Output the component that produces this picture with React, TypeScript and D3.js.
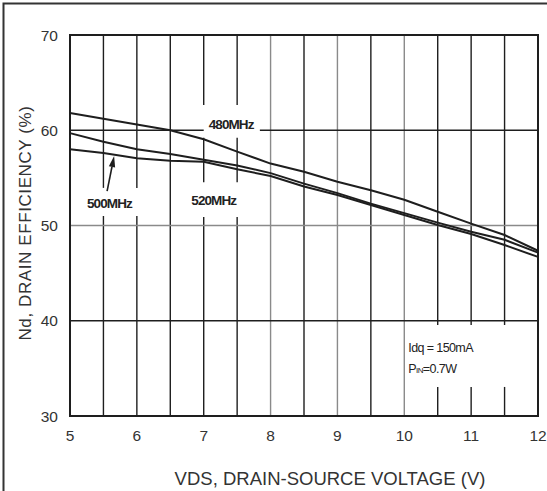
import React from 'react';
import * as d3 from 'd3';

// drain voltage (V) at each reading
const voltage = [5, 5.5, 6, 6.5, 7, 7.5, 8, 8.5, 9, 9.5, 10, 10.5, 11, 11.5, 12];

// drain efficiency (%) per frequency
const eff480 = [61.8, 61.2, 60.6, 60.0, 59.05, 57.75, 56.5, 55.65, 54.6, 53.7, 52.7, 51.45, 50.2, 49.0, 47.35];
const eff520 = [59.7, 58.8, 58.0, 57.5, 56.9, 56.3, 55.5, 54.4, 53.4, 52.3, 51.3, 50.3, 49.35, 48.5, 47.15];
const eff500 = [58.0, 57.6, 57.05, 56.8, 56.7, 55.9, 55.2, 54.1, 53.2, 52.15, 51.1, 50.05, 49.1, 47.95, 46.7];

const xTicks = [5, 6, 7, 8, 9, 10, 11, 12];
const yTicks = [30, 40, 50, 60, 70];
const vGrid = [5.5, 6, 6.5, 7, 7.5, 8, 8.5, 9, 9.5, 10, 10.5, 11, 11.5];
const hGrid = [40, 50, 60];
const grayV = [8, 9, 10];
const grayH = [50];

// gaps left in the grid for the labels (data units)
const vGaps = [
  { at: [7, 7.5], from: 59.2, to: 62.65 },
  { at: [7, 7.5], from: 50.9, to: 54.55 },
  { at: [5.5, 6], from: 51.0, to: 53.95 },
  { at: [10.5, 11, 11.5], from: 33.05, to: 39.55 },
];
const hGaps = [{ at: [60], from: 7.0, to: 7.84 }];

const W = 547;
const H = 491;
const margin = { top: 35, right: 9, bottom: 75, left: 70 };

const x = d3.scaleLinear().domain([5, 12]).range([margin.left, W - margin.right]);
const y = d3.scaleLinear().domain([30, 70]).range([H - margin.bottom, margin.top]);

const line = d3
  .line<number>()
  .x((d, i) => x(voltage[i]))
  .y((d) => y(d));

const font = "'Liberation Sans', Arial, Helvetica, sans-serif";
const ink = '#1e1e1e';

function segments(lo: number, hi: number, gaps: { from: number; to: number }[]) {
  const out: [number, number][] = [];
  let start = lo;
  gaps
    .slice()
    .sort((a, b) => a.from - b.from)
    .forEach((g) => {
      out.push([start, g.from]);
      start = g.to;
    });
  out.push([start, hi]);
  return out;
}

const App: React.FC = () => {
  return (
    <svg
      width={W}
      height={H}
      style={{ position: 'absolute', left: 0, top: 0, background: '#fff' }}
      fontFamily={font}
    >
      <rect x={3.5} y={3.5} width={W + 40} height={H + 40} fill='none' stroke='#333' strokeWidth={2} />

      {/* vertical grid */}
      {vGrid.map((v) => {
        const gaps = vGaps.filter((g) => g.at.includes(v));
        return segments(30, 70, gaps).map(([a, b], i) => (
          <line
            key={`v${v}-${i}`}
            x1={x(v)}
            x2={x(v)}
            y1={y(a)}
            y2={y(b)}
            stroke={grayV.includes(v) ? '#8a8a8a' : ink}
            strokeWidth={1.4}
          />
        ));
      })}

      {/* horizontal grid */}
      {hGrid.map((e) => {
        const gaps = hGaps.filter((g) => g.at.includes(e));
        return segments(5, 12, gaps).map(([a, b], i) => (
          <line
            key={`h${e}-${i}`}
            x1={x(a)}
            x2={x(b)}
            y1={y(e)}
            y2={y(e)}
            stroke={grayH.includes(e) ? '#8a8a8a' : ink}
            strokeWidth={1.4}
          />
        ));
      })}

      <rect
        x={x(5)}
        y={y(70)}
        width={x(12) - x(5)}
        height={y(30) - y(70)}
        fill='none'
        stroke={ink}
        strokeWidth={2}
      />

      {[eff480, eff520, eff500].map((s, i) => (
        <path key={i} d={line(s) || ''} fill='none' stroke={ink} strokeWidth={2} />
      ))}

      {/* arrow to the 500 MHz curve */}
      {(() => {
        const x1 = x(5.555), y1 = y(53.6);
        const x2 = x(5.66), y2 = y(57.3);
        const ang = Math.atan2(y2 - y1, x2 - x1);
        const len = 11, half = 3.2;
        const bx = x2 - len * Math.cos(ang), by = y2 - len * Math.sin(ang);
        const px = -Math.sin(ang) * half, py = Math.cos(ang) * half;
        return (
          <g>
            <line x1={x1} y1={y1} x2={bx} y2={by} stroke={ink} strokeWidth={1.6} />
            <polygon points={`${x2},${y2} ${bx + px},${by + py} ${bx - px},${by - py}`} fill={ink} />
          </g>
        );
      })()}

      <g fontWeight='bold' fontSize={13.5} letterSpacing={-0.9} fill='#222' textAnchor='middle'>
        <text x={x(7.41)} y={y(60.13)}>480MHz</text>
        <text x={x(5.59)} y={y(51.84)}>500MHz</text>
        <text x={x(7.15)} y={y(52.15)}>520MHz</text>
      </g>

      <g fontSize={12.5} letterSpacing={-0.6} fill='#222'>
        <text x={x(10.06)} y={y(36.7)}>Idq = 150mA</text>
        <text x={x(10.06)} y={y(34.5)}>
          P<tspan fontSize={8}>IN</tspan>=0.7W
        </text>
      </g>

      {/* tick labels */}
      <g fontSize={15.5} fill='#333' textAnchor='middle'>
        {xTicks.map((t) => (
          <text key={t} x={x(t)} y={441}>
            {t}
          </text>
        ))}
      </g>
      <g fontSize={15.5} fill='#333' textAnchor='end'>
        {yTicks.map((t) => (
          <text key={t} x={58} y={y(t) + 5.5}>
            {t}
          </text>
        ))}
      </g>

      <text x={330} y={485} fontSize={18.5} fill='#333' textAnchor='middle'>
        VDS, DRAIN-SOURCE VOLTAGE (V)
      </text>
      <text
        transform='translate(31,223) rotate(-90)'
        fontSize={17}
        letterSpacing={0.6}
        fill='#333'
        textAnchor='middle'
      >
        Nd, DRAIN EFFICIENCY  (%)
      </text>
    </svg>
  );
};

export default App;
